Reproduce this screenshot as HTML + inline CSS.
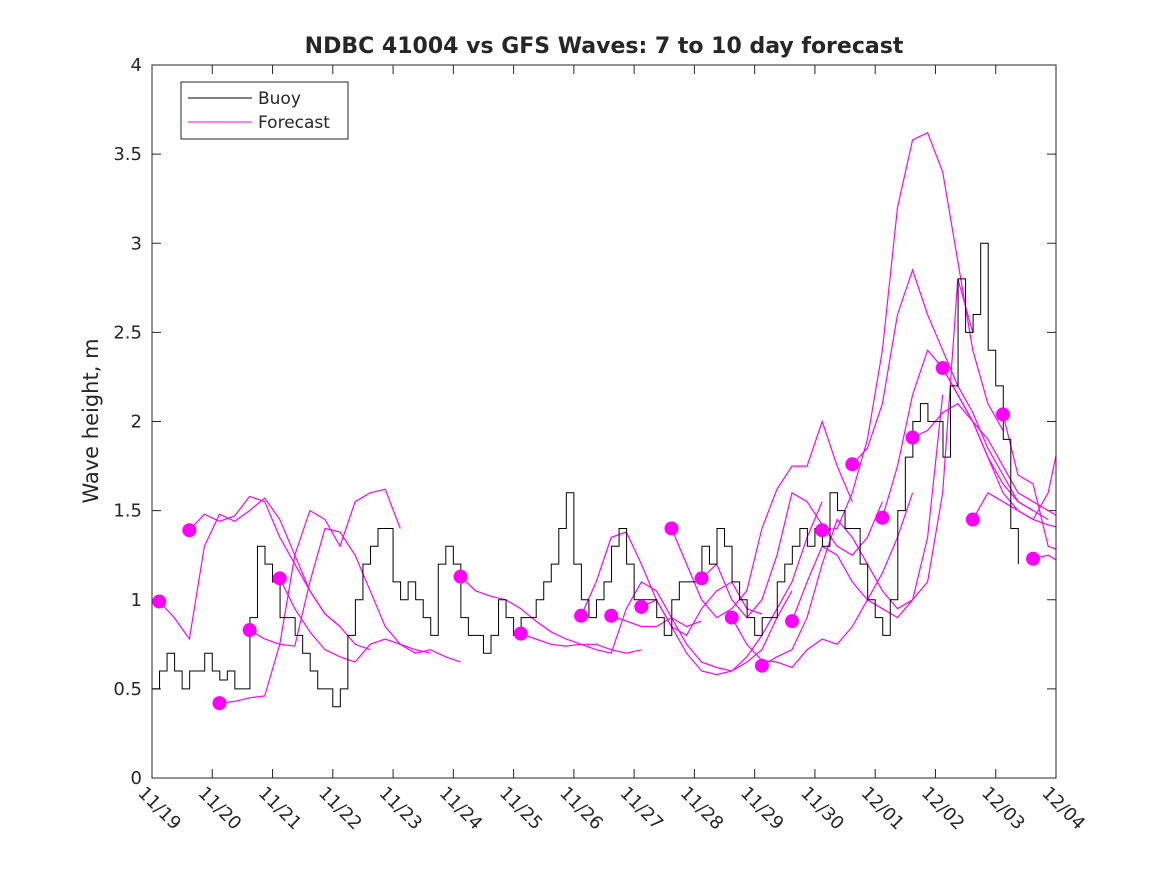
<!DOCTYPE html>
<html><head><meta charset="utf-8"><style>
body{margin:0;background:#fff;font-family:"DejaVu Sans","Liberation Sans",sans-serif}
svg text{font-family:"DejaVu Sans","Liberation Sans",sans-serif;fill:#262626}
</style></head><body>
<svg id="c" width="1167" height="875" viewBox="0 0 1167 875">
<rect width="1167" height="875" fill="#fff"/>
<defs><clipPath id="clip"><rect x="152" y="65" width="904" height="713"/></clipPath></defs>
<text x="604" y="53" text-anchor="middle" font-size="22" font-weight="bold">NDBC 41004 vs GFS Waves: 7 to 10 day forecast</text>
<text transform="translate(98,421) rotate(-90)" text-anchor="middle" font-size="21">Wave height, m</text>
<g id="axes"></g>
<g id="series" clip-path="url(#clip)"></g>
<rect x="152" y="65" width="904" height="713" fill="none" stroke="#262626" stroke-width="1"/>
<g>
<rect x="181" y="82" width="167" height="57" fill="#fff" stroke="#262626" stroke-width="1"/>
<line x1="188" y1="98" x2="252" y2="98" stroke="#000"/>
<text x="258" y="104" font-size="17">Buoy</text>
<line x1="188" y1="122" x2="252" y2="122" stroke="#f0f"/>
<text x="258" y="128" font-size="17">Forecast</text>
</g>
</svg>
<script>
const xTickLabels=["11/19","11/20","11/21","11/22","11/23","11/24","11/25","11/26","11/27","11/28","11/29","11/30","12/01","12/02","12/03","12/04"];
const yTicks=[0,0.5,1,1.5,2,2.5,3,3.5,4];
const yTickLabels=["0","0.5","1","1.5","2","2.5","3","3.5","4"];
const buoyStep=0.125;
const buoy=[0.5,0.6,0.7,0.6,0.5,0.6,0.6,0.7,
0.6,0.55,0.6,0.5,0.5,0.9,1.3,1.2,
1.1,0.9,0.9,0.8,0.7,0.6,0.5,0.5,
0.4,0.5,0.8,1.0,1.2,1.3,1.4,1.4,
1.1,1.0,1.1,1.0,0.9,0.8,1.2,1.3,
1.2,0.9,0.8,0.8,0.7,0.8,1.0,0.9,
0.8,0.9,0.9,1.0,1.1,1.2,1.4,1.6,
1.2,1.0,0.9,1.0,1.1,1.3,1.4,1.2,
1.0,1.0,1.0,0.9,0.8,1.0,1.1,1.1,
1.1,1.3,1.2,1.4,1.3,1.1,1.0,0.9,
0.8,0.9,0.9,1.1,1.2,1.3,1.4,1.3,
1.4,1.3,1.6,1.5,1.4,1.4,1.2,1.0,
0.9,0.8,1.0,1.5,1.8,2.0,2.1,2.0,
2.0,1.8,2.2,2.8,2.5,2.6,3.0,2.4,
2.2,1.9,1.4,1.2];
const fcStep=0.25;
const fcStarts=[0.12,0.62,1.12,1.62,2.12,5.12,6.12,7.12,7.62,8.12,8.62,9.12,9.62,10.12,10.62,11.12,11.62,12.12,12.62,13.12,13.62,14.12,14.62];
const fcValues=[
[0.99,0.90,0.78,1.30,1.48,1.44,1.50,1.57,1.45,1.25,1.05,0.92,0.85],
[1.39,1.48,1.44,1.47,1.58,1.55,1.35,1.20,1.05,0.92,0.85,0.75,0.72],
[0.42,0.43,0.45,0.46,0.75,1.25,1.50,1.45,1.30,1.55,1.60,1.62,1.40],
[0.83,0.78,0.75,0.74,1.10,1.40,1.38,1.25,1.05,0.85,0.75,0.72,0.70],
[1.12,0.95,0.82,0.72,0.68,0.65,0.75,0.78,0.75,0.70,0.72,0.68,0.65],
[1.13,1.05,1.02,1.00,0.95,0.88,0.82,0.78,0.75,0.75,0.72,0.70,0.72],
[0.81,0.78,0.75,0.74,0.75,0.72,0.70,0.95,1.10,1.05,0.90,0.85,0.88],
[0.91,1.10,1.35,1.38,1.20,1.00,0.85,0.80,0.95,1.05,1.10,0.95,0.92],
[0.91,0.88,0.85,0.85,0.90,0.75,0.65,0.62,0.60,0.65,0.72,0.90,1.05],
[0.96,1.00,0.85,0.70,0.60,0.58,0.60,0.68,0.80,0.95,1.10,1.35,1.55],
[1.40,1.20,1.00,0.90,0.95,1.05,1.40,1.62,1.75,1.75,2.00,1.75,1.55],
[1.12,1.20,1.00,0.90,1.00,1.25,1.60,1.55,1.42,1.30,1.25,1.35,1.55],
[0.90,0.75,0.66,0.65,0.62,0.72,0.78,0.75,0.85,1.00,1.15,1.35,1.60],
[0.63,0.68,0.72,0.90,1.20,1.45,1.35,1.20,1.05,0.95,1.00,1.35,2.15],
[0.88,1.10,1.30,1.25,1.10,1.00,0.95,0.90,1.00,1.10,1.60,2.80,2.50],
[1.39,1.40,1.60,1.90,2.40,3.20,3.58,3.62,3.40,2.90,2.40,2.10,1.95],
[1.76,1.85,2.10,2.60,2.85,2.60,2.40,2.20,2.05,1.85,1.70,1.55,1.50],
[1.46,1.75,2.15,2.40,2.30,2.15,2.00,1.80,1.60,1.50,1.45,1.42,1.40],
[1.91,1.95,2.05,2.10,2.00,1.90,1.75,1.60,1.55,1.50,1.45,1.38,1.32],
[2.30,2.15,2.00,1.80,1.65,1.55,1.50,1.45],
[1.45,1.60,1.55,1.50,1.45,1.60,2.00,1.95,1.60],
[2.04,1.70,1.65,1.30,1.27,1.20],
[1.23,1.25,1.20,1.15]];
const X0=152,X1=1056,Y0=778,Y1=65;
const xs=d=>X0+(X1-X0)*d/15;
const ys=v=>Y0-(Y0-Y1)*v/4;
const NS="http://www.w3.org/2000/svg";
function mk(t,a,p){const e=document.createElementNS(NS,t);for(const k in a)e.setAttribute(k,a[k]);p.appendChild(e);return e;}
const ax=document.getElementById('axes'),se=document.getElementById('series');
yTicks.forEach((v,i)=>{const y=ys(v);
 let t=mk('line',{x1:X0,y1:y,x2:X0+9,y2:y,stroke:'#262626'},ax);
 
 
 t=mk('line',{x1:X1-9,y1:y,x2:X1,y2:y,stroke:'#262626'},ax);
 
 
 const tx=mk('text',{x:X0-10,y:y+6,'text-anchor':'end','font-size':18},ax);tx.textContent=yTickLabels[i];
 
 
});
xTickLabels.forEach((l,i)=>{const x=xs(i);
 let t=mk('line',{x1:x,y1:Y0,x2:x,y2:Y0-9,stroke:'#262626'},ax);
 
 
 t=mk('line',{x1:x,y1:Y1,x2:x,y2:Y1+9,stroke:'#262626'},ax);
 
 
 const tx=mk('text',{transform:`translate(${x-15},${Y0+16}) rotate(45)`,'font-size':18},ax);tx.textContent=l;
 
 
});
fcStarts.forEach((s,i)=>{
 const pts=fcValues[i].map((v,j)=>xs(s+j*fcStep).toFixed(1)+','+ys(v).toFixed(1)).join(' ');
 const p=mk('polyline',{points:pts,fill:'none',stroke:'#f0f','stroke-width':1.2},se);
 
 
});
let d='';buoy.forEach((v,i)=>{const x=xs(i*buoyStep),y=ys(v);
 if(i===0)d+=`M${x},${y}`;else d+=`H${x}V${y}`;});
const b=mk('path',{d:d,fill:'none',stroke:'#000','stroke-width':1},se);


fcStarts.forEach((s,i)=>{
 const c=mk('circle',{cx:xs(s),cy:ys(fcValues[i][0]),r:7,fill:'#f0f'},se);
 
 
});
</script>
</body></html>
